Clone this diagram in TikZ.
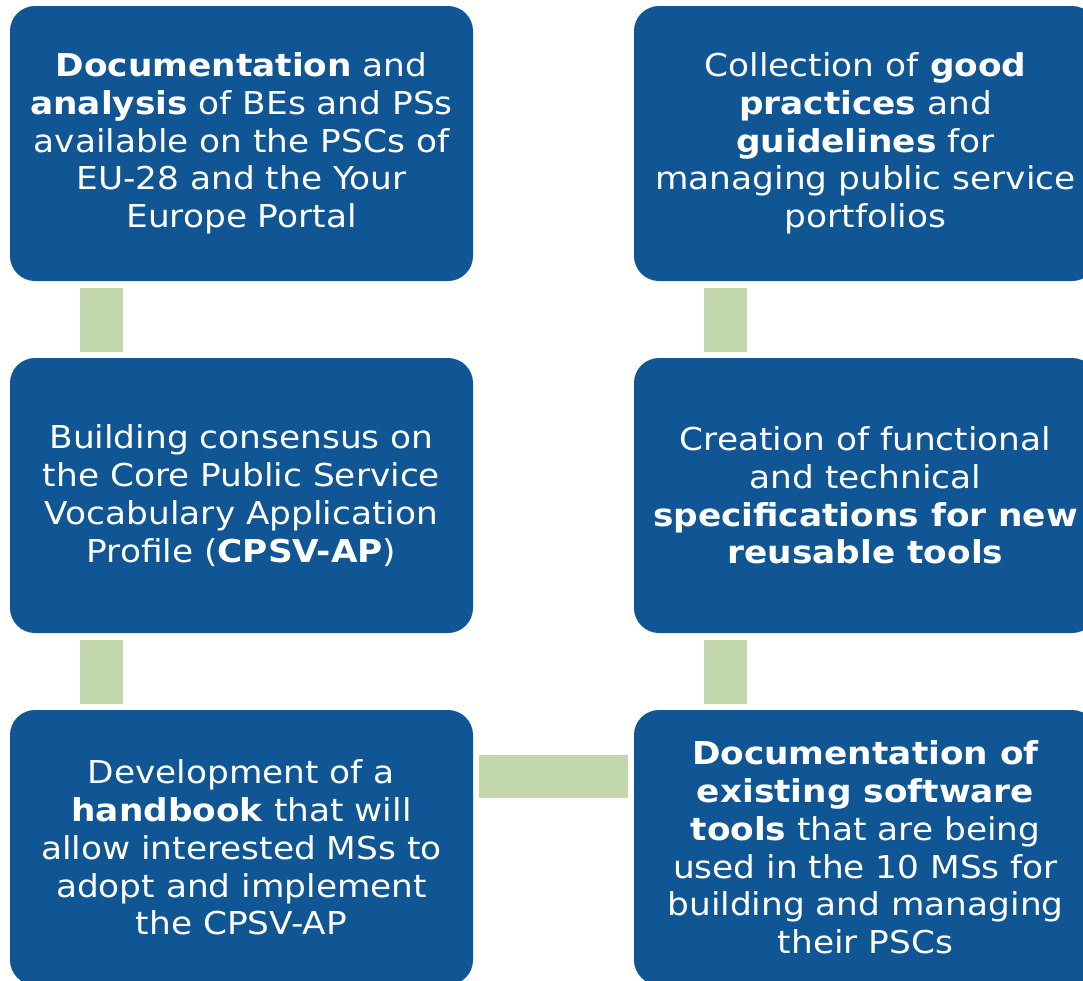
\documentclass[tikz,border=0pt]{standalone}
\usepackage{fontspec}
\setmainfont{DejaVu Sans}[FakeStretch=1.09]
\usetikzlibrary{positioning}
\definecolor{boxblue}{RGB}{16,85,148}
\definecolor{linkgreen}{RGB}{194,215,171}

\begin{document}
\begin{tikzpicture}[x=1pt, y=1pt, node distance=352pt and 624pt, on grid,
    box/.style={rectangle, rounded corners=25pt, fill=boxblue, text=white, align=center,
        inner sep=0pt, minimum width=463pt, minimum height=275pt,
        font=\fontsize{31.5}{37.8}\selectfont},
    link/.style={draw=linkgreen, line width=43pt}]
        \useasboundingbox (0,0) rectangle (1083,-980);

        \node[box] (doc) at (241.5,-143.5) {\textbf{Documentation} and\\ \textbf{analysis} of BEs and PSs\\ available on the PSCs of\\ EU-28 and the Your\\ Europe Portal};
        \node[box] (cpsv) [below=of doc] {Building consensus on\\ the Core Public Service\\ Vocabulary Application\\ Profile (\textbf{CPSV-AP})};
        \node[box] (hbook) [below=of cpsv] {Development of a\\ \textbf{handbook} that will\\ allow interested MSs to\\ adopt and implement\\ the CPSV-AP};
        \node[box] (good) [right=of doc] {Collection of \textbf{good}\\ \textbf{practices} and\\ \textbf{guidelines} for\\ managing public service\\ portfolios};
        \node[box] (spec) [below=of good] {Creation of functional\\ and technical\\ \textbf{specifications for new}\\ \textbf{reusable tools}};
        \node[box] (tools) [below=of spec] {\textbf{Documentation of}\\ \textbf{existing software}\\ \textbf{tools} that are being\\ used in the 10 MSs for\\ building and managing\\ their PSCs};

        % green bars between the boxes
        \draw[link] ([shift={(91.5,-7)}]doc.south west) -- ([shift={(91.5,6)}]cpsv.north west);
        \draw[link] ([shift={(91.5,-7)}]cpsv.south west) -- ([shift={(91.5,6)}]hbook.north west);
        \draw[link] ([shift={(91.5,-7)}]good.south west) -- ([shift={(91.5,6)}]spec.north west);
        \draw[link] ([shift={(91.5,-7)}]spec.south west) -- ([shift={(91.5,6)}]tools.north west);
        \draw[link] ([shift={(6,-66.5)}]hbook.north east) -- ([shift={(-6,-66.5)}]tools.north west);
\end{tikzpicture}
\end{document}
